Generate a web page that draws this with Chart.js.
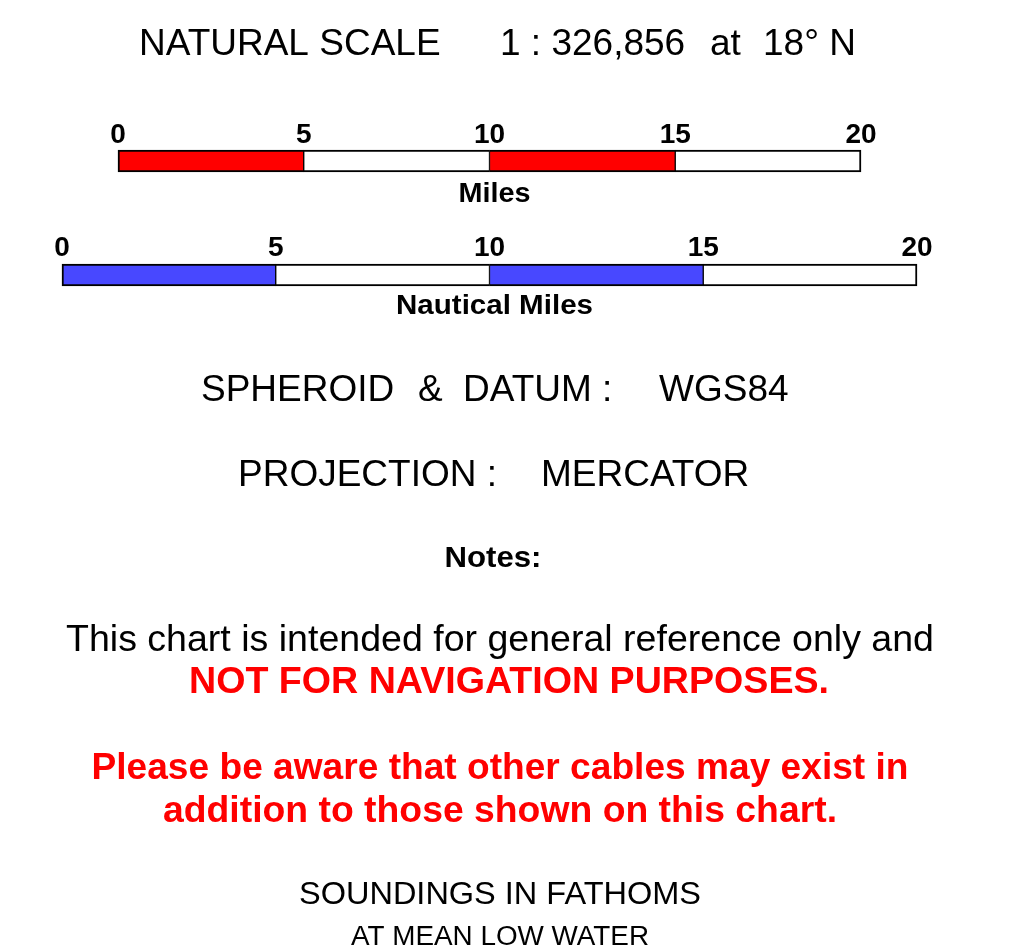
<!DOCTYPE html>
<html>
<head>
<meta charset="utf-8">
<script src="https://cdn.jsdelivr.net/npm/chart.js@4/dist/chart.umd.min.js"></script>
<style>
  html, body { margin: 0; padding: 0; background: #fff; }
  #scaleChart { display: block; }
</style>
</head>
<body>
<canvas id="scaleChart" width="1017" height="952"></canvas>
<script>
// scale bar data
var barUnits = ['Miles', 'Nautical Miles'];
var milesTicks = [0, 5, 10, 15, 20];
var nauticalTicks = [0, 5, 10, 15, 20];
var milesSegments = [[0, 5], [5, 10], [10, 15], [15, 20]];
var nauticalSegments = [[0, 5], [5, 10], [10, 15], [15, 20]];
var milesColors = ['#ff0000', '#ffffff', '#ff0000', '#ffffff'];
var nauticalColors = ['#4848ff', '#ffffff', '#4848ff', '#ffffff'];

var FONT = 'Arial, "Liberation Sans", sans-serif';

// draw text, optionally squeezed/stretched horizontally to a given width
function drawText(ctx, text, x, y, font, color, align, width) {
  ctx.save();
  ctx.font = font;
  ctx.fillStyle = color;
  ctx.textBaseline = 'alphabetic';
  var w = ctx.measureText(text).width;
  var sx = width ? width / w : 1;
  var left = x;
  if (align === 'center') left = x - (width || w) / 2;
  ctx.translate(left, y);
  ctx.scale(sx, 1);
  ctx.textAlign = 'left';
  ctx.fillText(text, 0, 0);
  ctx.restore();
}

var textPlugin = {
  id: 'scaleText',
  afterDatasetsDraw: function(chart) {
    var ctx = chart.ctx;
    var xMi = chart.scales.xMi, xNm = chart.scales.xNm, y = chart.scales.y;
    var yMi = y.getPixelForValue(0), yNm = y.getPixelForValue(1);

    // tick numbers above the bars
    milesTicks.forEach(function(t) {
      drawText(ctx, String(t), xMi.getPixelForValue(t), yMi - 18, 'bold 28px ' + FONT, '#000', 'center');
    });
    nauticalTicks.forEach(function(t) {
      drawText(ctx, String(t), xNm.getPixelForValue(t), yNm - 19, 'bold 28px ' + FONT, '#000', 'center');
    });
    drawText(ctx, barUnits[0], xMi.getPixelForValue(10) + 5, yMi + 41, 'bold 28px ' + FONT, '#000', 'center', 72);
    drawText(ctx, barUnits[1], xNm.getPixelForValue(10) + 5, yNm + 39, 'bold 28px ' + FONT, '#000', 'center', 197);

    // title and map details
    var f37 = '37px ' + FONT;
    drawText(ctx, 'NATURAL SCALE', 139, 55, f37, '#000', 'left');
    drawText(ctx, '1 : 326,856', 500, 55, f37, '#000', 'left');
    drawText(ctx, 'at', 710, 55, f37, '#000', 'left');
    drawText(ctx, '18° N', 763, 55, f37, '#000', 'left');

    drawText(ctx, 'SPHEROID', 201, 401, f37, '#000', 'left');
    drawText(ctx, '&', 418, 401, f37, '#000', 'left');
    drawText(ctx, 'DATUM :', 463, 401, f37, '#000', 'left');
    drawText(ctx, 'WGS84', 659, 401, f37, '#000', 'left');

    drawText(ctx, 'PROJECTION :', 238, 486, f37, '#000', 'left');
    drawText(ctx, 'MERCATOR', 541, 486, f37, '#000', 'left');

    drawText(ctx, 'Notes:', 493, 567, 'bold 30px ' + FONT, '#000', 'center', 97);

    drawText(ctx, 'This chart is intended for general reference only and', 500, 651, '37px ' + FONT, '#000', 'center', 868);
    drawText(ctx, 'NOT FOR NAVIGATION PURPOSES.', 509, 693, 'bold 37px ' + FONT, '#ff0000', 'center', 640);
    drawText(ctx, 'Please be aware that other cables may exist in', 500, 779, 'bold 37px ' + FONT, '#ff0000', 'center', 817);
    drawText(ctx, 'addition to those shown on this chart.', 500, 822, 'bold 37px ' + FONT, '#ff0000', 'center', 674);

    drawText(ctx, 'SOUNDINGS IN FATHOMS', 500, 904, '32px ' + FONT, '#000', 'center', 402);
    drawText(ctx, 'AT MEAN LOW WATER', 500, 945, '27px ' + FONT, '#000', 'center', 298);
  }
};

function segBorder(n) {
  return function(c) {
    return {
      top: 2,
      bottom: 2,
      left: c.dataIndex === 0 ? 2 : 1,
      right: c.dataIndex === n - 1 ? 2 : 1
    };
  };
}

var ctx = document.getElementById('scaleChart').getContext('2d');
var chart = new Chart(ctx, {
  type: 'bar',
  data: {
    labels: barUnits,
    datasets: [{
      label: barUnits[0],
      xAxisID: 'xMi',
      data: milesSegments.map(function(s) { return { x: s, y: barUnits[0] }; }),
      backgroundColor: milesColors,
      borderColor: '#000',
      borderWidth: segBorder(milesSegments.length),
      borderSkipped: false
    }, {
      label: barUnits[1],
      xAxisID: 'xNm',
      data: nauticalSegments.map(function(s) { return { x: s, y: barUnits[1] }; }),
      backgroundColor: nauticalColors,
      borderColor: '#000',
      borderWidth: segBorder(nauticalSegments.length),
      borderSkipped: false
    }]
  },
  options: {
    indexAxis: 'y',
    responsive: false,
    animation: false,
    events: [],
    layout: { padding: { top: 104, bottom: 620, left: 0, right: 0 } },
    datasets: { bar: { grouped: false, barThickness: 22 } },
    plugins: { legend: { display: false }, tooltip: { enabled: false } },
    scales: {
      xMi: { type: 'linear', axis: 'x', display: false, min: -3.176, max: 24.199 },
      xNm: { type: 'linear', axis: 'x', display: false, min: -1.450, max: 22.339 },
      y: { type: 'category', display: false, offset: true }
    }
  },
  plugins: [textPlugin]
});
</script>
</body>
</html>
